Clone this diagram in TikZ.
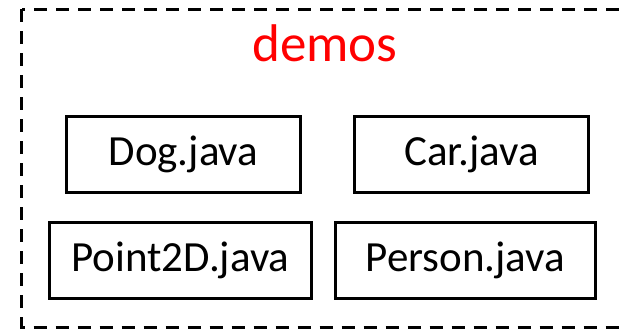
\documentclass[tikz,border=0pt]{standalone}
\usepackage{fontspec}
\setmainfont{Carlito}
\usepackage{xcolor}
\usetikzlibrary{positioning}

\begin{document}
\begin{tikzpicture}[
  x=1pt, y=-1pt,
  file/.style={draw, line width=3pt, inner sep=0pt, minimum height=76pt, font=\fontsize{43}{50}\selectfont},
  pkg/.style={draw, line width=3pt, dash pattern=on 13pt off 9pt},
  pkglbl/.style={text=red, font=\fontsize{53}{60}\selectfont},
]
\useasboundingbox (0,0) rectangle (619,331);
% package frame (right side runs off the page)
\draw[pkg] (21.5,9.5) rectangle (640,327.5);
\node[pkglbl] (demos) at (325,43) {demos};

\node[file, minimum width=234pt] (dog) at (183.5,154.5) {Dog.java};
\node[file, minimum width=234pt] (car) at (471.5,154.5) {Car.java};
\node[file, minimum width=262pt] (point) at (180.5,260.5) {Point2D.java};
\node[file, minimum width=260pt] (person) at (465.5,260.5) {Person.java};
\end{tikzpicture}
\end{document}
